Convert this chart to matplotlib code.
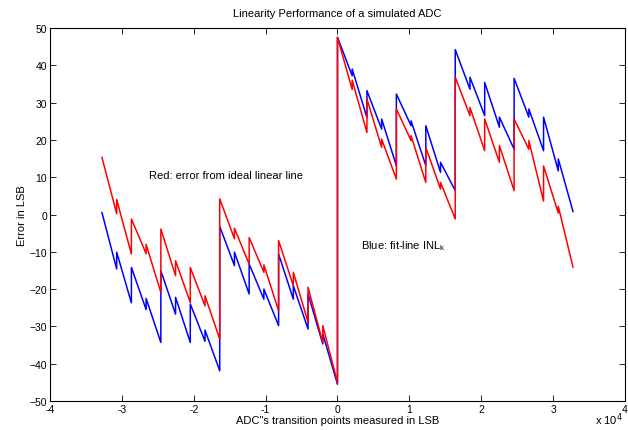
import numpy as np
import matplotlib
matplotlib.use('Agg')
import matplotlib.pyplot as plt

# transition codes where the sub-segments start (every 2048 LSB), last one is the end
knots = np.arange(-32768, 32769, 2048)

# red: error from ideal linear line, value right after each jump / right before the next jump
red_start = [15.3, 4.0, -1.2, -8.0,
             -3.9, -12.4, -14.2, -21.8,
             4.2, -3.7, -6.2, -13.5,
             -7.0, -15.5, -19.5, -29.8,
             47.5, 36.0, 31.0, 20.2,
             28.3, 21.1, 18.0, 8.6,
             36.8, 28.7, 25.6, 18.5,
             25.6, 19.8, 13.0, 2.2]
red_end = [0.2, -10.6, -10.5, -20.9,
           -16.4, -23.6, -24.5, -33.4,
           -6.5, -13.3, -15.5, -25.8,
           -19.1, -28.9, -34.3, -45.0,
           33.5, 22.0, 18.0, 9.5,
           19.8, 8.6, 6.8, -1.2,
           26.5, 17.1, 14.0, 6.4,
           17.5, 3.6, 0.4, -14.1]

# blue: fit-line INL
blue_start = [0.5, -10.1, -14.2, -22.5,
              -15.1, -22.2, -24.0, -31.0,
              -3.2, -10.1, -13.3, -20.0,
              -10.6, -19.1, -21.3, -32.0,
              47.5, 39.0, 33.2, 25.6,
              32.3, 25.1, 23.8, 14.0,
              44.2, 36.8, 35.4, 26.1,
              36.5, 28.3, 26.1, 14.9]
blue_end = [-14.6, -23.7, -25.5, -34.3,
            -26.7, -34.3, -34.0, -41.9,
            -13.7, -21.3, -22.7, -29.8,
            -22.7, -30.7, -34.7, -45.5,
            37.2, 26.0, 22.9, 13.1,
            23.8, 13.1, 11.3, 6.4,
            33.6, 26.5, 23.4, 17.5,
            26.1, 17.1, 11.7, 0.8]


def sawtooth(starts, ends):
    xs, ys = [], []
    for i in range(len(starts)):
        xs += [knots[i], knots[i + 1] - 1]
        ys += [starts[i], ends[i]]
    return xs, ys


plt.rcParams['font.family'] = ['Liberation Sans', 'DejaVu Sans']
plt.rcParams['font.size'] = 7.5

fig = plt.figure(figsize=(6.28, 4.31), dpi=100)
ax = fig.add_axes([0.0796, 0.0673, 0.9156, 0.8654])

xb, yb = sawtooth(blue_start, blue_end)
xr, yr = sawtooth(red_start, red_end)
ax.plot(xb, yb, color='blue', lw=1.1)
ax.plot(xr, yr, color='red', lw=1.1)

ax.set_xlim(-40000, 40000)
ax.set_ylim(-50, 50)
ax.set_xticks(np.arange(-40000, 40001, 10000))
ax.set_xticklabels(['-4', '-3', '-2', '-1', '0', '1', '2', '3', '4'])
ax.set_yticks(np.arange(-50, 51, 10))
ax.tick_params(direction='in', top=True, right=True, length=4, width=0.6, pad=2)
for s in ax.spines.values():
    s.set_linewidth(0.8)

ax.set_title('Linearity Performance of a simulated ADC', fontsize=8, pad=9)
ax.set_xlabel('ADC"s transition points measured in LSB', fontsize=8, labelpad=1)
ax.set_ylabel('Error in LSB', fontsize=8, labelpad=2)
fig.text(0.992, 0.008, r'x 10$^4$', ha='right', va='bottom', fontsize=8)

ax.text(-26200, 10.6, 'Red: error from ideal linear line', fontsize=8, va='center')
ax.text(3300, -8.2, r'Blue: fit-line INL$_\mathregular{k}$', fontsize=8, va='center')

fig.savefig('out.png', dpi=100)
